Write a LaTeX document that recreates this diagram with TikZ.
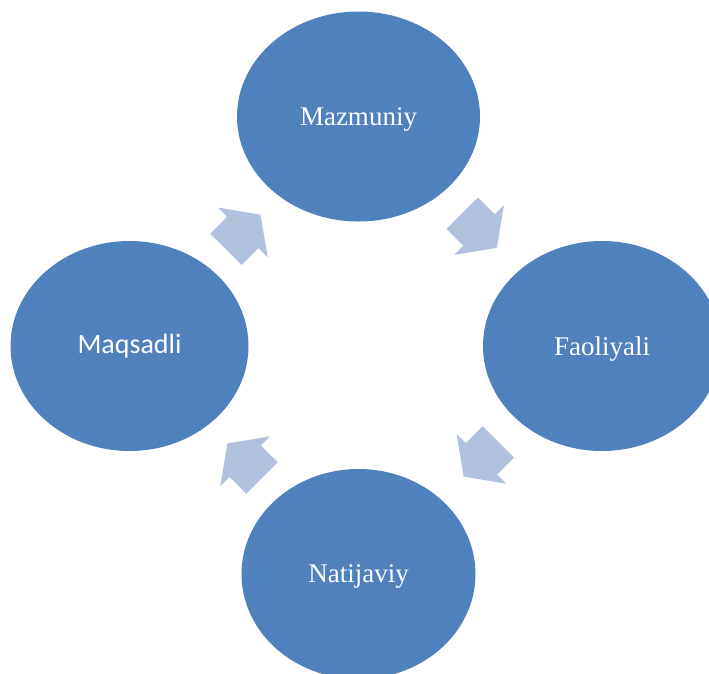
\documentclass[tikz,border=0pt]{standalone}
\usepackage{fontspec}
\setmainfont{Liberation Serif}
\newfontfamily\calibri{Carlito}
\usetikzlibrary{shapes.geometric,shapes.arrows,calc}
\definecolor{ovalblue}{RGB}{79,129,189}
\definecolor{arrowblue}{RGB}{176,193,222}
\begin{document}
\begin{tikzpicture}[x=1pt,y=-1pt,
  oval/.style={ellipse,fill=ovalblue,text=white,minimum width=238pt,minimum height=210pt,inner sep=0pt,text depth=0pt,font=\fontsize{27}{30}\selectfont},
  turn/.style={single arrow,fill=arrowblue,minimum height=49pt,minimum width=70pt,single arrow head extend=13pt,single arrow tip angle=109,inner xsep=0pt,inner ysep=22pt,rotate=#1,xshift=-9pt}]
\clip (0,0) rectangle (709,673);
\node[oval,minimum width=243pt] (maz) at (358.5,116.5) {Mazmuniy};
\node[oval] (fao) at (602,346) {Faoliyali};
\node[oval,minimum width=234pt] (nat) at (358.5,574) {Natijaviy};
\node[oval,text depth=,font=\calibri\fontsize{28}{30}\selectfont] (maq) at (129.5,346) {Maqsadli};
\node[turn=-45] (t1) at ($(maz)!.5!(fao)$) {};
\node[turn=-135] (t2) at ($(fao)!.5!(nat)$) {};
\node[turn=135] (t3) at ($(nat)!.5!(maq)$) {};
\node[turn=45] (t4) at ($(maq)!.5!(maz)$) {};
\end{tikzpicture}
\end{document}
